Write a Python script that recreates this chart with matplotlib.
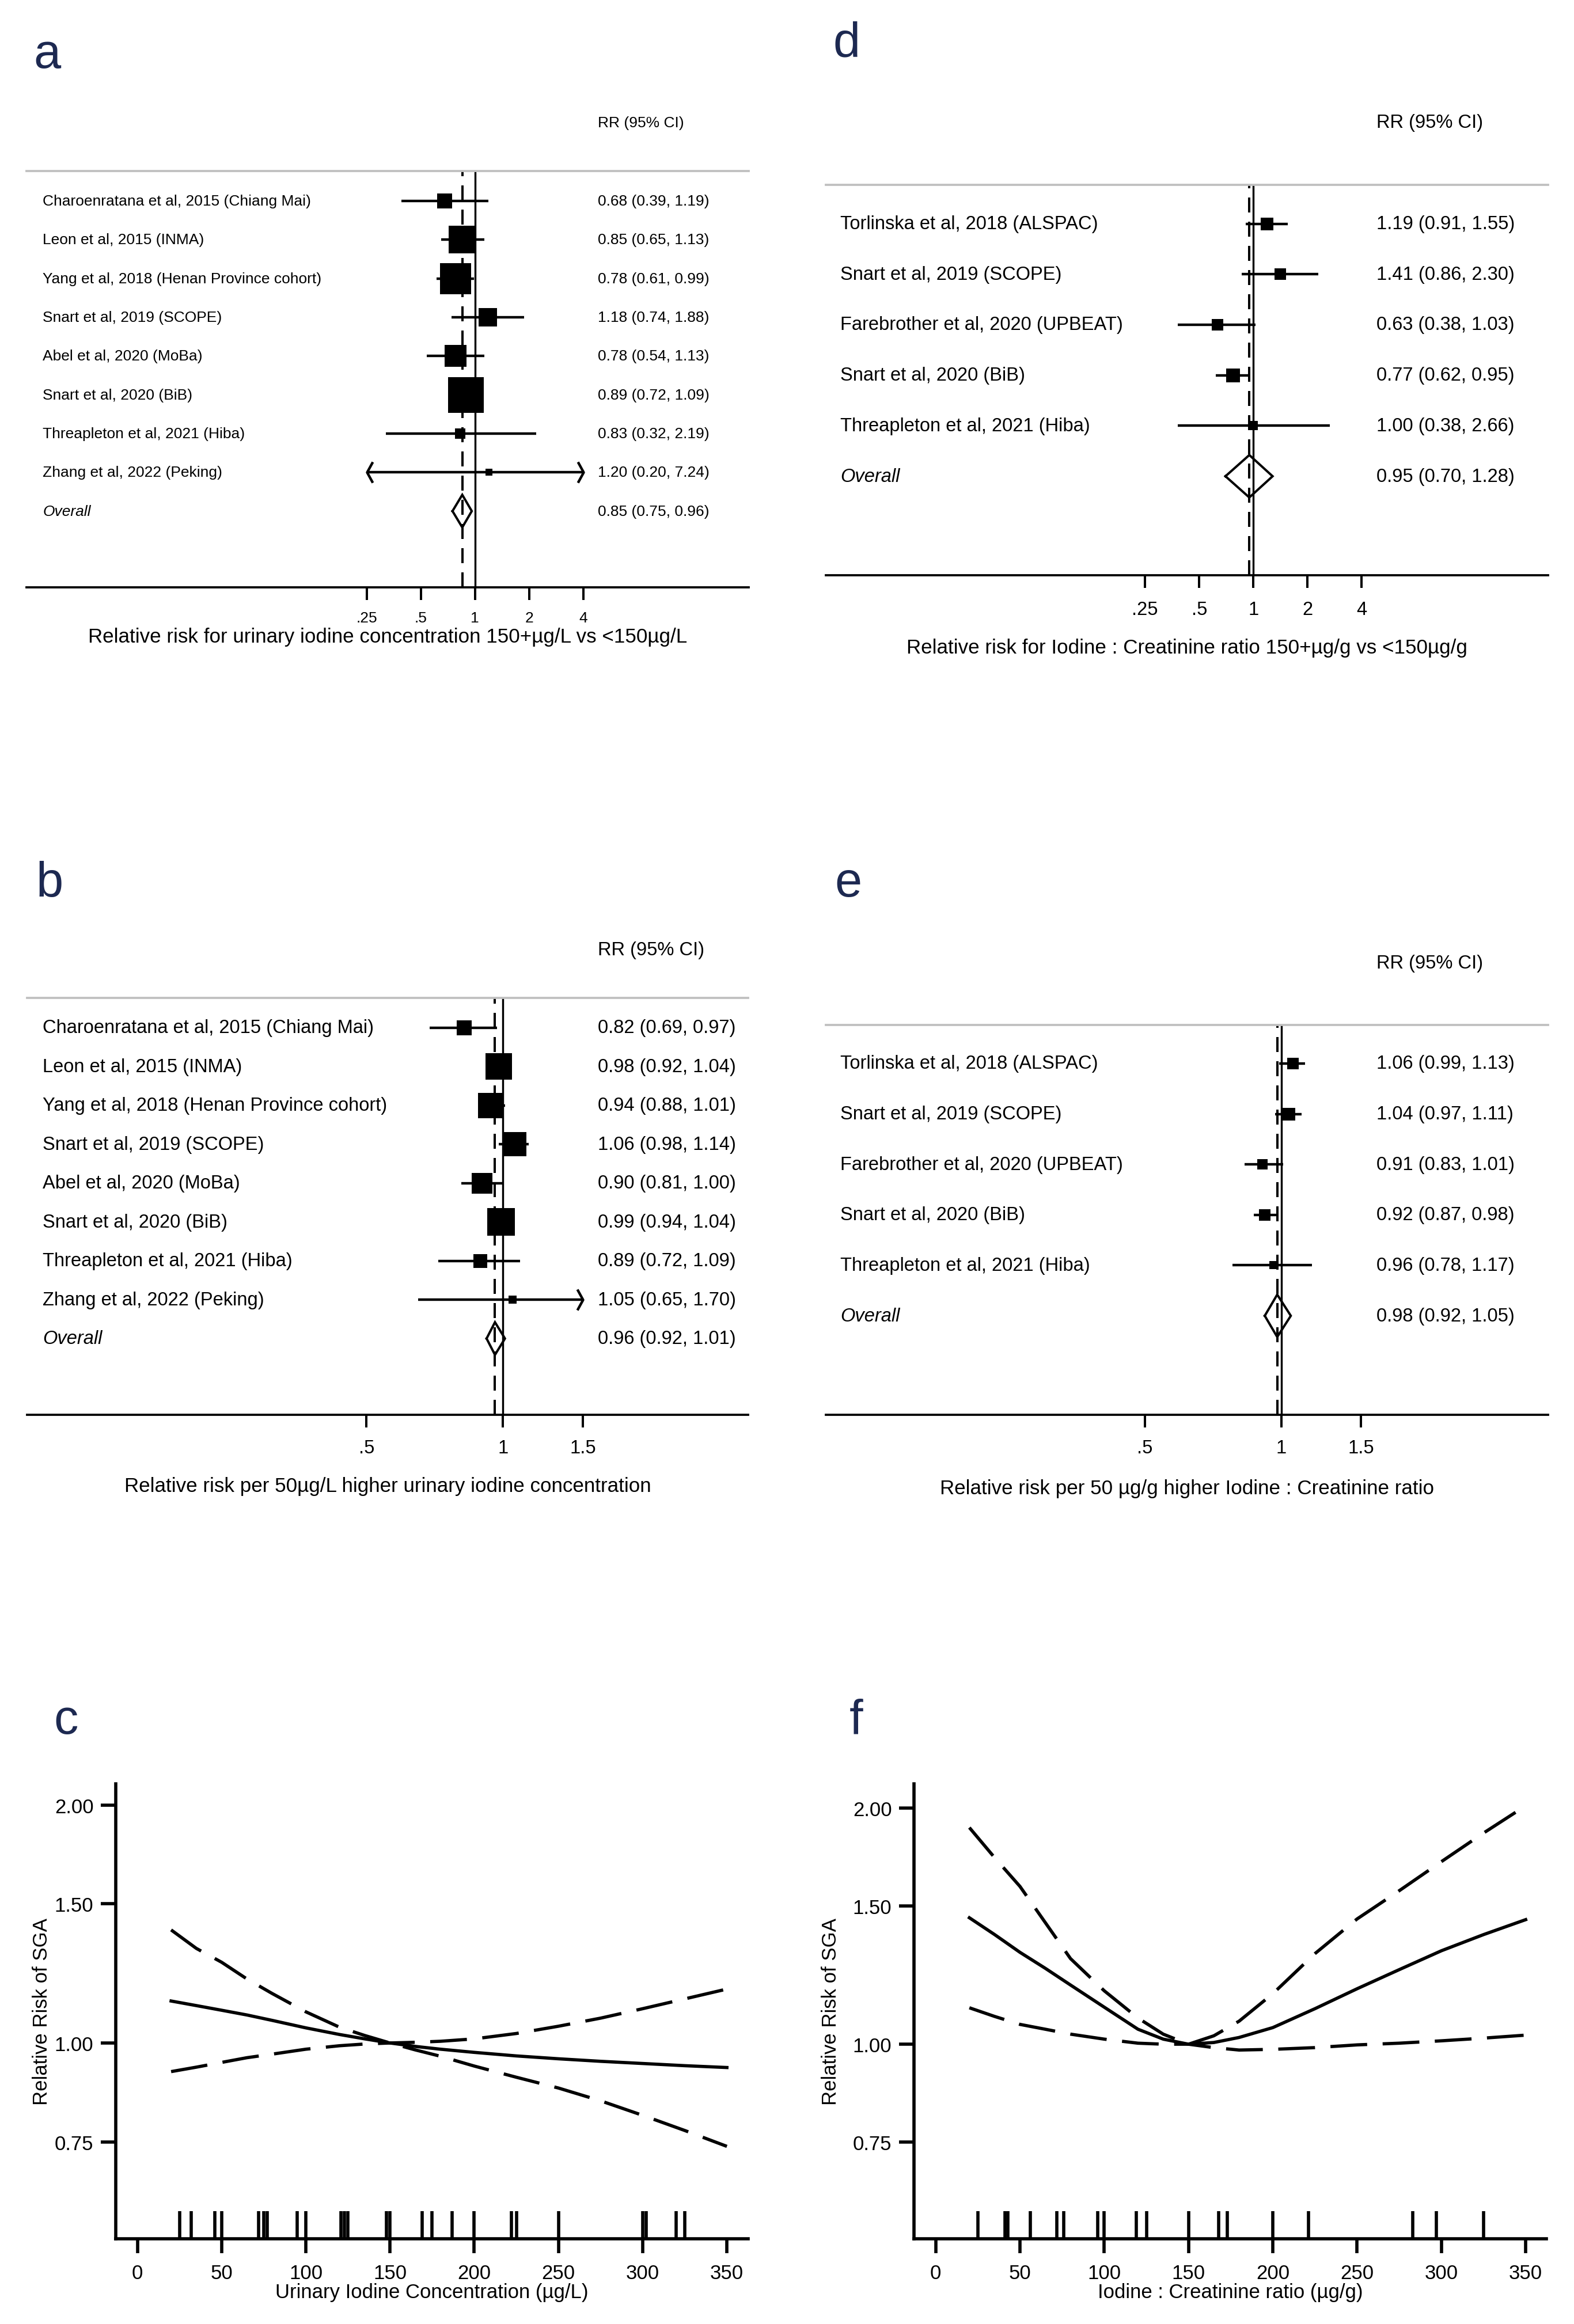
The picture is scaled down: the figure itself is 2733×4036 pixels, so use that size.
import numpy as np
import matplotlib
matplotlib.use("Agg")
import matplotlib.pyplot as plt
from matplotlib.path import Path
from matplotlib.ticker import FixedLocator, NullLocator
from matplotlib.transforms import blended_transform_factory as btf

plt.rcParams['font.family'] = ['Liberation Sans', 'DejaVu Sans']

# ------------------------------------------------------------------ data
a_labels = ["Charoenratana et al, 2015 (Chiang Mai)", "Leon et al, 2015 (INMA)",
            "Yang et al, 2018 (Henan Province cohort)", "Snart et al, 2019 (SCOPE)",
            "Abel et al, 2020 (MoBa)", "Snart et al, 2020 (BiB)",
            "Threapleton et al, 2021 (Hiba)", "Zhang et al, 2022 (Peking)"]
a_est = [0.68, 0.85, 0.78, 1.18, 0.78, 0.89, 0.83, 1.20]
a_lo = [0.39, 0.65, 0.61, 0.74, 0.54, 0.72, 0.32, 0.20]
a_hi = [1.19, 1.13, 0.99, 1.88, 1.13, 1.09, 2.19, 7.24]
a_weight = [5.7, 18.1, 23.8, 7.6, 10.8, 30.3, 2.6, 1.1]
a_overall = [0.85, 0.75, 0.96]

b_labels = a_labels
b_est = [0.82, 0.98, 0.94, 1.06, 0.90, 0.99, 0.89, 1.05]
b_lo = [0.69, 0.92, 0.88, 0.98, 0.81, 0.94, 0.72, 0.65]
b_hi = [0.97, 1.04, 1.01, 1.14, 1.00, 1.04, 1.09, 1.70]
b_weight = [6.5, 20.0, 17.5, 16.4, 11.7, 20.8, 5.1, 2.0]
b_overall = [0.96, 0.92, 1.01]

d_labels = ["Torlinska et al, 2018 (ALSPAC)", "Snart et al, 2019 (SCOPE)",
            "Farebrother et al, 2020 (UPBEAT)", "Snart et al, 2020 (BiB)",
            "Threapleton et al, 2021 (Hiba)"]
d_est = [1.19, 1.41, 0.63, 0.77, 1.00]
d_lo = [0.91, 0.86, 0.38, 0.62, 0.38]
d_hi = [1.55, 2.30, 1.03, 0.95, 2.66]
d_weight = [24.2, 18.1, 20.0, 26.5, 11.3]
d_overall = [0.95, 0.70, 1.28]

e_labels = d_labels
e_est = [1.06, 1.04, 0.91, 0.92, 0.96]
e_lo = [0.99, 0.97, 0.83, 0.87, 0.78]
e_hi = [1.13, 1.11, 1.01, 0.98, 1.17]
e_weight = [21.0, 25.7, 20.0, 21.0, 12.3]
e_overall = [0.98, 0.92, 1.05]

ticks_ad = [0.25, 0.5, 1, 2, 4]
ticklabels_ad = [".25", ".5", "1", "2", "4"]
ticks_be = [0.5, 1, 1.5]
ticklabels_be = [".5", "1", "1.5"]

xlabel_a = "Relative risk for urinary iodine concentration 150+µg/L vs <150µg/L"
xlabel_d = "Relative risk for Iodine : Creatinine ratio 150+µg/g vs <150µg/g"
xlabel_b = "Relative risk per 50µg/L higher urinary iodine concentration"
xlabel_e = "Relative risk per 50 µg/g higher Iodine : Creatinine ratio"

spl_x = [20, 35, 50, 65, 80, 100, 120, 135, 150, 165, 180, 200, 225, 250, 275, 300, 325, 350]
c_mid = [1.13, 1.115, 1.10, 1.085, 1.068, 1.045, 1.025, 1.012, 1.0, 0.99, 0.982, 0.973,
         0.963, 0.955, 0.948, 0.942, 0.936, 0.931]
c_dash1 = [1.39, 1.317, 1.265, 1.205, 1.155, 1.095, 1.047, 1.022, 1.0, 0.98, 0.962, 0.935,
           0.905, 0.877, 0.845, 0.81, 0.775, 0.74]
c_dash2 = [0.92, 0.932, 0.945, 0.958, 0.968, 0.982, 0.992, 0.997, 1.0, 1.002, 1.005, 1.012,
           1.028, 1.05, 1.075, 1.105, 1.137, 1.17]
c_rug = [25, 32, 46, 50, 72, 75, 77, 95, 100, 121, 123, 125, 148, 150, 169, 175, 187, 200,
         222, 225, 250, 300, 302, 320, 325]

f_mid = [1.45, 1.38, 1.31, 1.25, 1.19, 1.115, 1.045, 1.015, 1.0, 1.005, 1.02, 1.05,
         1.11, 1.177, 1.245, 1.316, 1.38, 1.442]
f_dash1 = [1.89, 1.73, 1.59, 1.43, 1.286, 1.17, 1.08, 1.03, 1.0, 1.025, 1.07, 1.16,
           1.305, 1.445, 1.57, 1.71, 1.86, 2.015]
f_dash2 = [1.113, 1.085, 1.06, 1.045, 1.03, 1.015, 1.003, 1.0, 1.0, 0.99, 0.983, 0.985,
           0.99, 0.998, 1.003, 1.01, 1.018, 1.027]
f_rug = [25, 41, 43, 56, 72, 76, 96, 100, 119, 125, 150, 168, 173, 200, 221, 283, 297, 325]

spl_xticks = [0, 50, 100, 150, 200, 250, 300, 350]
spl_yticks = [0.75, 1.0, 1.5, 2.0]
spl_yticklabels = ["0.75", "1.00", "1.50", "2.00"]
ylabel_spl = "Relative Risk of SGA"
xlabel_c = "Urinary Iodine Concentration (µg/L)"
xlabel_f = "Iodine : Creatinine ratio (µg/g)"

# ------------------------------------------------------------------ layout
W, H = 2733, 4037
DPI = 100
fig = plt.figure(figsize=(W / DPI, H / DPI), dpi=DPI)
fig.patch.set_facecolor("white")


def pt(px):
    return px * 72.0 / DPI


def add_ax(x0, y0, x1, y1):
    return fig.add_axes([x0 / W, 1 - y1 / H, (x1 - x0) / W, (y1 - y0) / H])


LEFT_CHEV = Path([(0.55, 1.0), (0.0, 0.0), (0.55, -1.0)],
                 [Path.MOVETO, Path.LINETO, Path.LINETO])
RIGHT_CHEV = Path([(-0.55, 1.0), (0.0, 0.0), (-0.55, -1.0)],
                  [Path.MOVETO, Path.LINETO, Path.LINETO])

LETTER_COLOR = "#1d2951"


def forest(x0, x1, ytop, ybot, xlim, ticks, ticklabels, clip, labels, est, lo, hi,
           weight, box_k, overall, label_x, value_x, head_y, tick_pad, fs, xlabel,
           xlabel_y):
    n = len(labels) + 1
    ax = add_ax(x0, ytop, x1, ybot)
    ax.set_xscale("log")
    ax.set_xlim(*xlim)
    ax.set_ylim(n + 0.96, -0.77)
    for s in ["left", "right"]:
        ax.spines[s].set_visible(False)
    ax.spines["top"].set_color("#c0c0c0")
    ax.spines["top"].set_linewidth(pt(3.8))
    ax.spines["bottom"].set_linewidth(pt(3.8))
    ax.set_yticks([])
    ax.xaxis.set_major_locator(FixedLocator(ticks))
    ax.xaxis.set_minor_locator(NullLocator())
    ax.set_xticklabels(ticklabels)
    ax.tick_params(axis="x", length=pt(22), width=pt(4), pad=tick_pad, labelsize=fs)

    ax.axvline(1, color="k", lw=pt(3.4), zorder=1)
    ax.axvline(overall[0], color="k", lw=pt(4), ls=(0, (6.5, 4)), zorder=1)

    lw = pt(4.4)
    ytr = btf(fig.transFigure, ax.transData)
    for i, (lab, e, l, h, w) in enumerate(zip(labels, est, lo, hi, weight)):
        lc = max(l, clip[0])
        hc = min(h, clip[1])
        ax.plot([lc, hc], [i, i], color="k", lw=lw, solid_capstyle="butt", zorder=2)
        if l < clip[0]:
            ax.plot([clip[0]], [i], marker=LEFT_CHEV, ms=pt(36), mfc="none", mec="k",
                    mew=lw, zorder=3)
        if h > clip[1]:
            ax.plot([clip[1]], [i], marker=RIGHT_CHEV, ms=pt(36), mfc="none", mec="k",
                    mew=lw, zorder=3)
        side = box_k * np.sqrt(w)
        ax.plot([e], [i], marker="s", ms=pt(side), mew=0, color="k", zorder=4)
        ax.text(label_x / W, i, lab, transform=ytr, va="center", ha="left", fontsize=fs)
        ax.text(value_x / W, i, f"{e:.2f} ({l:.2f}, {h:.2f})", transform=ytr,
                va="center", ha="left", fontsize=fs)
    i = len(labels)
    e, l, h = overall
    dh = 0.42
    ax.plot([l, e, h, e, l], [i, i - dh, i, i + dh, i], color="k", lw=pt(4),
            solid_joinstyle="miter", zorder=4)
    ax.text(label_x / W, i, "Overall", transform=ytr, va="center", ha="left",
            fontsize=fs, style="italic")
    ax.text(value_x / W, i, f"{e:.2f} ({l:.2f}, {h:.2f})", transform=ytr,
            va="center", ha="left", fontsize=fs)
    fig.text(value_x / W, 1 - head_y / H, "RR (95% CI)", va="center", ha="left",
             fontsize=fs)
    fig.text((x0 + x1) / 2 / W, 1 - xlabel_y / H, xlabel, va="center", ha="center",
             fontsize=25.2)
    return ax


def spline_panel(x0, x1, ytop, ybot, xlim, ylim, mid, d1, d2, rug, xlabel, ylabel_x,
                 xlabel_y):
    ax = add_ax(x0, ytop, x1, ybot)
    ax.set_yscale("log")
    ax.set_xlim(*xlim)
    ax.set_ylim(*ylim)
    lw = pt(5.6)
    ax.plot(spl_x, mid, color="k", lw=lw, solid_joinstyle="round")
    ax.plot(spl_x, d1, color="k", lw=lw, dashes=(11.4, 4.8), dash_capstyle="butt")
    ax.plot(spl_x, d2, color="k", lw=lw, dashes=(11.4, 4.8), dash_capstyle="butt")
    ax.vlines(rug, 0, 48.0 / (ybot - ytop), transform=ax.get_xaxis_transform(),
              color="k", lw=lw)
    for s in ["top", "right"]:
        ax.spines[s].set_visible(False)
    for s in ["left", "bottom"]:
        ax.spines[s].set_linewidth(lw)
    ax.xaxis.set_major_locator(FixedLocator(spl_xticks))
    ax.set_xticklabels([str(v) for v in spl_xticks])
    ax.yaxis.set_major_locator(FixedLocator(spl_yticks))
    ax.yaxis.set_minor_locator(NullLocator())
    ax.set_yticklabels(spl_yticklabels)
    ax.tick_params(axis="x", length=pt(25), width=lw, pad=pt(17.6), labelsize=25)
    ax.tick_params(axis="y", length=pt(26), width=lw, pad=pt(12.6), labelsize=25)
    ax.set_facecolor("none")
    fig.text((x0 + x1) / 2 / W, 1 - xlabel_y / H, xlabel, ha="center", va="center",
             fontsize=25)
    fig.text(ylabel_x / W, 1 - (ytop + ybot) / 2 / H, ylabel_spl, ha="center",
             va="center", rotation=90, fontsize=25)
    return ax


# panel a
forest(46, 1300, 298, 1020.6,
       (2 ** ((46 - 824.7) / 94.0), 2 ** ((1300 - 824.7) / 94.0)),
       ticks_ad, ticklabels_ad, (0.25, 4), a_labels, a_est, a_lo, a_hi, a_weight, 11.26,
       a_overall, 74.4, 1038.3, 213.8, pt(19.6), 19, xlabel_a, 1106.7)
# panel d
forest(1434, 2688, 322, 1000,
       (2 ** ((1434 - 2176.2) / 94.0), 2 ** ((2688 - 2176.2) / 94.0)),
       ticks_ad, ticklabels_ad, (0.25, 4), d_labels, d_est, d_lo, d_hi, d_weight, 4.47,
       d_overall, 1459.5, 2390, 213.8, pt(22), 23.5, xlabel_d, 1125.8)
# panel b
forest(47, 1299, 1733.9, 2457.8,
       (np.exp((47 - 873.4) / 342.0), np.exp((1299 - 873.4) / 342.0)),
       ticks_be, ticklabels_be, (0.5, 1.5), b_labels, b_est, b_lo, b_hi, b_weight, 10.46,
       b_overall, 74.4, 1038.3, 1651, pt(20.5), 23.5, xlabel_b, 2582)
# panel e
forest(1434, 2688, 1780.5, 2457.8,
       (np.exp((1434 - 2224.6) / 342.0), np.exp((2688 - 2224.6) / 342.0)),
       ticks_be, ticklabels_be, (0.5, 1.5), e_labels, e_est, e_lo, e_hi, e_weight, 4.15,
       e_overall, 1459.5, 2390, 1673.3, pt(20.5), 23.5, xlabel_e, 2585.4)

# panel c
spline_panel(201, 1299, 3099, 3889, (-12.86, 362.6), (0.5654, 2.1266),
             c_mid, c_dash1, c_dash2, c_rug, xlabel_c, 72.6, 3981.7)
# panel f
spline_panel(1587, 2685.4, 3099, 3889, (-12.85, 362.4), (0.5645, 2.149),
             f_mid, f_dash1, f_dash2, f_rug, xlabel_f, 1442.5, 3981.7)

# panel letters
for letter, lx, ly in [("a", 58, 118), ("d", 1446, 98), ("b", 62, 1557),
                       ("e", 1449, 1557), ("c", 93, 3011), ("f", 1475, 3011)]:
    fig.text(lx / W, 1 - ly / H, letter, fontsize=61, color=LETTER_COLOR,
             ha="left", va="baseline")

fig.savefig("out.png", dpi=DPI)
